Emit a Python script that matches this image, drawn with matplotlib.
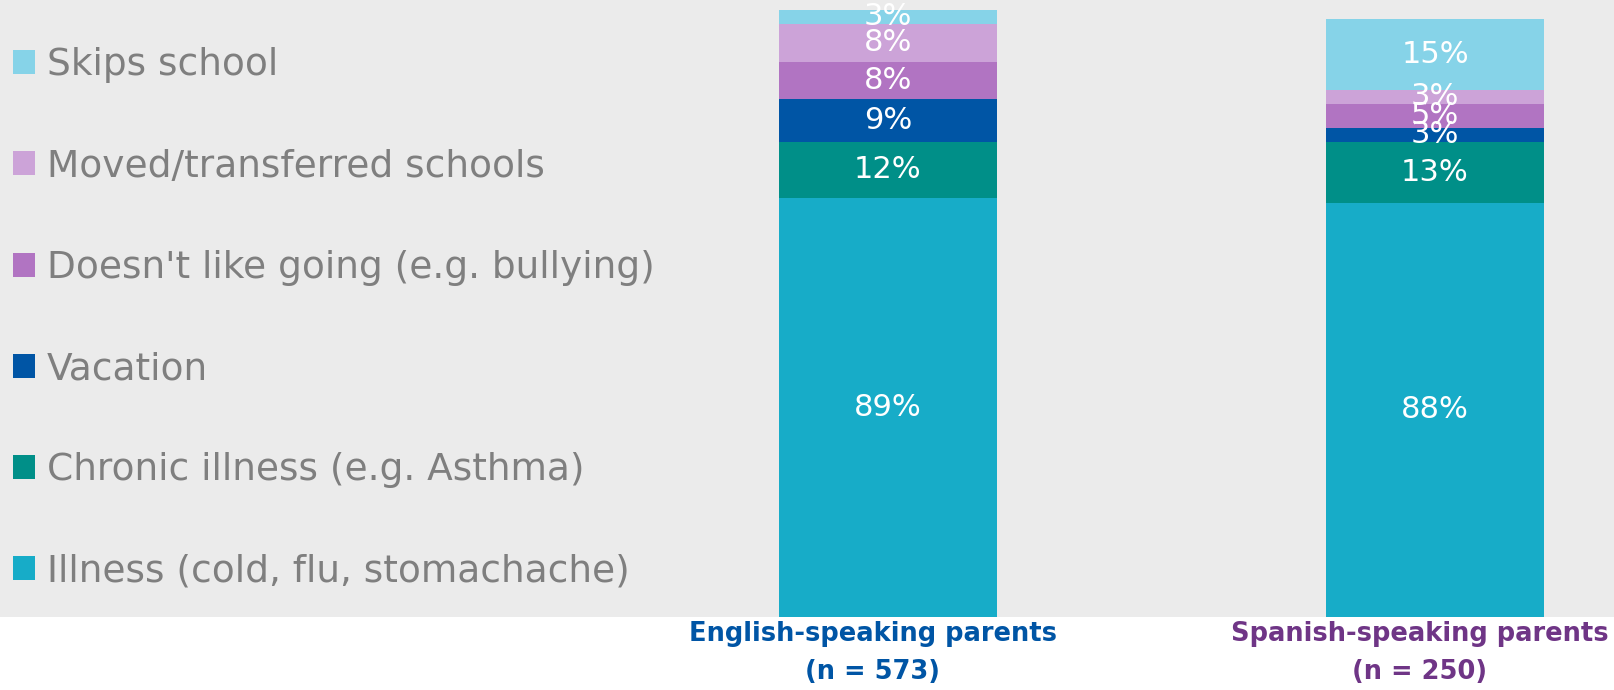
import matplotlib
matplotlib.use('Agg')
import matplotlib.pyplot as plt
import numpy as np

# data
groups = ['English-speaking parents\n(n = 573)', 'Spanish-speaking parents\n(n = 250)']
group_colors = ['#0055a5', '#6f3586']
reasons = ['Illness (cold, flu, stomachache)', 'Chronic illness (e.g. Asthma)', 'Vacation',
           "Doesn't like going (e.g. bullying)", 'Moved/transferred schools', 'Skips school']
colors = ['#17acc8', '#008f88', '#0055a5', '#b174c2', '#cca3d8', '#86d3e8']
english = [89, 12, 9, 8, 8, 3]
spanish = [88, 13, 3, 5, 3, 15]

fig = plt.figure(figsize=(16.15, 6.9), dpi=100)
ax = fig.add_axes([0, 1 - 617/690, 1, 617/690])
ax.set_facecolor('#ebebeb')

x = np.arange(len(groups))
bottom = np.zeros(len(groups))
handles = []
for i, r in enumerate(reasons):
    vals = np.array([english[i], spanish[i]])
    b = ax.bar(x, vals, 0.4, bottom=bottom, color=colors[i], label=r)
    handles.append(b)
    for xi, v, bt in zip(x, vals, bottom):
        ax.text(xi, bt + v / 2, f'{v}%', ha='center', va='center', color='white', fontsize=22)
    bottom += vals

ax.set_xlim(-1.623, 1.329)
ax.set_ylim(0, 131.1)
ax.set_yticks([])
ax.set_xticks([])
for s in ax.spines.values():
    s.set_visible(False)

# group labels under the bars
for xi, g, c in zip(x, groups, group_colors):
    ax.annotate(g, xy=(xi, 0), xycoords=('data', 'axes fraction'), xytext=(-15, -4),
                textcoords='offset pixels', ha='center', va='top', fontsize=18.5,
                fontweight='bold', color=c, linespacing=1.62, annotation_clip=False)

leg = ax.legend(handles[::-1], reasons[::-1], loc='upper left', bbox_to_anchor=(-0.013, 0.978),
                frameon=False, fontsize=27, handlelength=0.6, handleheight=0.6, handletextpad=0.3,
                labelspacing=1.74, labelcolor='#7f7f7f')

fig.savefig('out.png', dpi=100)
